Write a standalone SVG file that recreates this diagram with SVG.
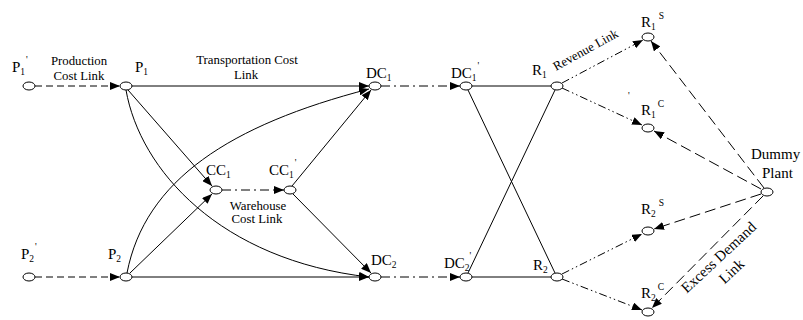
<svg xmlns="http://www.w3.org/2000/svg" width="803" height="320" viewBox="0 0 803 320">
<style>
text{font-family:"Liberation Serif","Times New Roman",serif;fill:#000}
.nl{font-size:15px}
.sm{font-size:12.8px}
.sub{font-size:9.5px}
.big{font-size:15px}
.e{fill:#fff;stroke:#000;stroke-width:1}
.c{fill:none;stroke:#000;stroke-width:1}
.dash{stroke-dasharray:7 4}
.dd{stroke-dasharray:9 4 2 4}
.ddd{stroke-dasharray:8 3 1.5 3 1.5 3}
.long{stroke-dasharray:11 5}
</style>
<defs>
<marker id="ah" markerUnits="userSpaceOnUse" markerWidth="11" markerHeight="8" refX="10" refY="4" orient="auto">
<path d="M0,0 L10,4 L0,8 z" fill="#000"/>
</marker>
</defs>
<g id="connectors">
<path class="c dash" marker-end="url(#ah)" d="M35,86 L120,86"/>
<path class="c" marker-end="url(#ah)" d="M131,86 L369,86"/>
<path class="c dd" marker-end="url(#ah)" d="M381,86 L460,86"/>
<path class="c" d="M472,86 L551,86"/>
<path class="c" d="M468,90 L555,273"/>
<path class="c" d="M468,273 L555,90"/>
<path class="c" d="M472,277 L551,277"/>
<path class="c dd" marker-end="url(#ah)" d="M381,277 L460,277"/>
<path class="c dash" marker-end="url(#ah)" d="M35,277 L120,277"/>
<path class="c" marker-end="url(#ah)" d="M132,277 L369,277"/>
<path class="c" marker-end="url(#ah)" d="M128,90 L212,186"/>
<path class="c" marker-end="url(#ah)" d="M130,273 L212,194"/>
<path class="c dd" marker-end="url(#ah)" d="M222,190 L284,190"/>
<path class="c" marker-end="url(#ah)" d="M292,186 L371,90"/>
<path class="c" marker-end="url(#ah)" d="M293,194 L371,273"/>
<path class="c" marker-end="url(#ah)" d="M126,90 C140,170 220,260 369,277"/>
<path class="c" marker-end="url(#ah)" d="M127,273 C145,180 230,125 369,89"/>
<path class="c ddd" marker-end="url(#ah)" d="M562,83 L643,40"/>
<path class="c ddd" marker-end="url(#ah)" d="M562,88 L642,125"/>
<path class="c ddd" marker-end="url(#ah)" d="M562,274 L642,234"/>
<path class="c ddd" marker-end="url(#ah)" d="M562,279 L642,310"/>
<path class="c long" marker-end="url(#ah)" d="M764,188 L651,41"/>
<path class="c long" marker-end="url(#ah)" d="M761,189 L654,131"/>
<path class="c long" marker-end="url(#ah)" d="M761,194 L654,229"/>
<path class="c long" marker-end="url(#ah)" d="M763,196 L652,308"/>
</g>
<g id="labels">
<text class="sm" x="79" y="65" text-anchor="middle">Production</text>
<text class="sm" x="79" y="80" text-anchor="middle">Cost Link</text>
<text class="sm" x="247" y="64" text-anchor="middle">Transportation Cost</text>
<text class="sm" x="246" y="79" text-anchor="middle">Link</text>
<text class="sm" x="258" y="210" text-anchor="middle">Warehouse</text>
<text class="sm" x="257" y="223" text-anchor="middle">Cost Link</text>
<text class="sm" transform="translate(556,71) rotate(-29)">Revenue Link</text>
<g transform="translate(722,261) rotate(-43)">
<text class="big" x="0" y="0" text-anchor="middle">Excess Demand</text>
<text class="big" x="0" y="19" text-anchor="middle">Link</text>
</g>
<text class="sub" x="628" y="99">'</text>
</g>
<g id="P1p"><ellipse class="e" cx="29" cy="86" rx="6" ry="4"/><text class="nl" x="12" y="72">P<tspan class="sub" dy="3">1</tspan><tspan class="sub" dx="1" dy="-12">'</tspan></text></g>
<g id="P1"><ellipse class="e" cx="126" cy="86" rx="6" ry="4"/><text class="nl" x="135" y="72">P<tspan class="sub" dy="3">1</tspan></text></g>
<g id="P2p"><ellipse class="e" cx="29" cy="277" rx="6" ry="4"/><text class="nl" x="21" y="259">P<tspan class="sub" dy="3">2</tspan><tspan class="sub" dx="1" dy="-12">'</tspan></text></g>
<g id="P2"><ellipse class="e" cx="126" cy="277" rx="6" ry="4"/><text class="nl" x="108" y="259">P<tspan class="sub" dy="3">2</tspan></text></g>
<g id="CC1"><ellipse class="e" cx="216" cy="190" rx="6" ry="4"/><text class="nl" x="206" y="175">CC<tspan class="sub" dy="3">1</tspan></text></g>
<g id="CC1p"><ellipse class="e" cx="290" cy="190" rx="6" ry="4"/><text class="nl" x="269" y="175">CC<tspan class="sub" dy="3">1</tspan><tspan class="sub" dx="1" dy="-12">'</tspan></text></g>
<g id="DC1"><ellipse class="e" cx="375" cy="86" rx="6" ry="4"/><text class="nl" x="366" y="78">DC<tspan class="sub" dy="3">1</tspan></text></g>
<g id="DC1p"><ellipse class="e" cx="466" cy="86" rx="6" ry="4"/><text class="nl" x="451" y="78">DC<tspan class="sub" dy="3">1</tspan><tspan class="sub" dx="1" dy="-12">'</tspan></text></g>
<g id="DC2"><ellipse class="e" cx="375" cy="277" rx="6" ry="4"/><text class="nl" x="371" y="265">DC<tspan class="sub" dy="3">2</tspan></text></g>
<g id="DC2p"><ellipse class="e" cx="466" cy="277" rx="6" ry="4"/><text class="nl" x="444" y="268">DC<tspan class="sub" dy="3">2</tspan><tspan class="sub" dx="0" dy="-12">'</tspan></text></g>
<g id="R1"><ellipse class="e" cx="557" cy="86" rx="6" ry="4"/><text class="nl" x="532" y="75">R<tspan class="sub" dy="3">1</tspan></text></g>
<g id="R2"><ellipse class="e" cx="557" cy="277" rx="6" ry="4"/><text class="nl" x="533" y="270">R<tspan class="sub" dy="3">2</tspan></text></g>
<g id="R1S"><ellipse class="e" cx="648" cy="37" rx="6" ry="4"/><text class="nl" x="641" y="27">R<tspan class="sub" dy="3">1</tspan><tspan class="sub" dx="3" dy="-11">S</tspan></text></g>
<g id="R1C"><ellipse class="e" cx="648" cy="128" rx="6" ry="4"/><text class="nl" x="641" y="115">R<tspan class="sub" dy="3">1</tspan><tspan class="sub" dx="2" dy="-11">C</tspan></text></g>
<g id="R2S"><ellipse class="e" cx="648" cy="231" rx="6" ry="4"/><text class="nl" x="641" y="214">R<tspan class="sub" dy="3">2</tspan><tspan class="sub" dx="3" dy="-11">S</tspan></text></g>
<g id="R2C"><ellipse class="e" cx="648" cy="312" rx="6" ry="4"/><text class="nl" x="641" y="298">R<tspan class="sub" dy="3">2</tspan><tspan class="sub" dx="2" dy="-11">C</tspan></text></g>
<g id="Dummy"><ellipse class="e" cx="767" cy="192" rx="6" ry="4"/><text class="big" x="751" y="159">Dummy</text><text class="big" x="762" y="178">Plant</text></g>
</svg>
